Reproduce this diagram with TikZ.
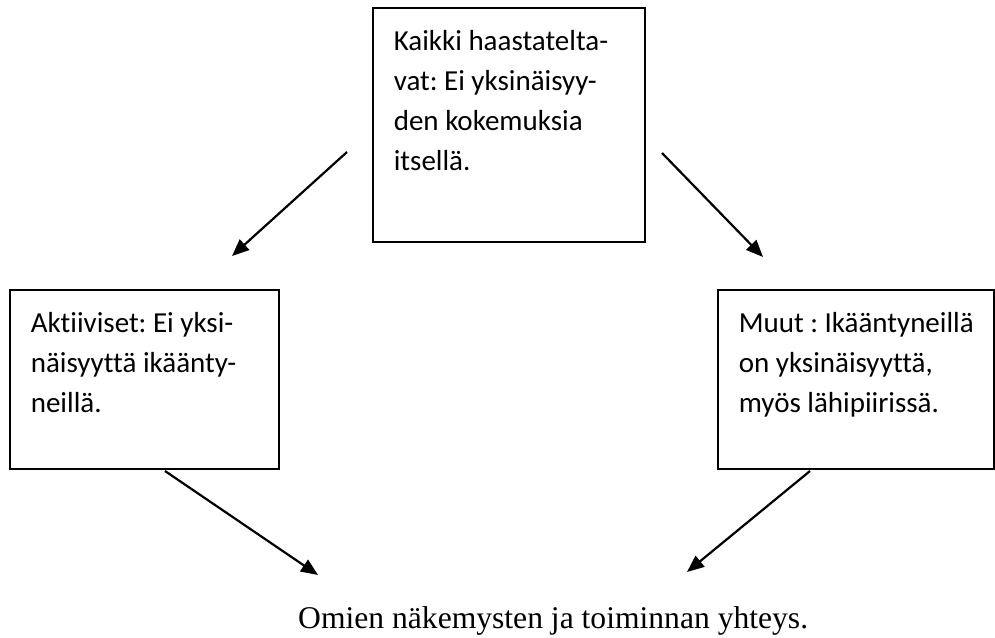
\documentclass[tikz,border=0pt]{standalone}
\usepackage{fontspec}
\setmainfont{Carlito}[Ligatures={NoCommon}]
\newfontfamily\serifx{Liberation Serif}
\usetikzlibrary{arrows.meta}
\frenchspacing
\newcommand\boxtext[3]{\parbox[c][#2pt][t]{#1pt}{\fontsize{29}{40}\selectfont\frenchspacing\raggedright\leftskip=21pt\rule{0pt}{43pt}#3}}
\begin{document}
\begin{tikzpicture}[x=1pt,y=-1pt,
  boxnode/.style={draw, line width=1.6pt, inner sep=0pt, anchor=north west},
  conn/.style={line width=2.2pt, -{Triangle[length=17pt,width=14pt]}},
]
\useasboundingbox (0,0) rectangle (995,637);
\node[boxnode] (all) at (372,7) {\boxtext{272}{234}{Kaikki haastatelta-\\vat: Ei yksinäisyy-\\den kokemuksia\\itsellä.}};
\node[boxnode] (act) at (9,289) {\boxtext{269}{179}{Aktiiviset: Ei yksi-\\näisyyttä ikäänty-\\neillä.}};
\node[boxnode] (oth) at (717,289) {\boxtext{276}{179}{Muut : Ikääntyneillä\\on yksinäisyyttä,\\myös lähipiirissä.}};
\node[anchor=base west, inner sep=0pt] (goal) at (298,628) {\serifx\fontsize{31.6}{38}\selectfont Omien näkemysten ja toiminnan yhteys.};
\coordinate (s1) at (347,152);
\coordinate (t1) at (232,256);
\coordinate (s2) at (662,153);
\coordinate (t2) at (763,257);
\coordinate (s3) at (165,471);
\coordinate (t3) at (318,575);
\coordinate (s4) at (810,471);
\coordinate (t4) at (687,572);
\draw[conn] (s1) -- (t1);
\draw[conn] (s2) -- (t2);
\draw[conn] (s3) -- (t3);
\draw[conn] (s4) -- (t4);
\end{tikzpicture}
\end{document}
